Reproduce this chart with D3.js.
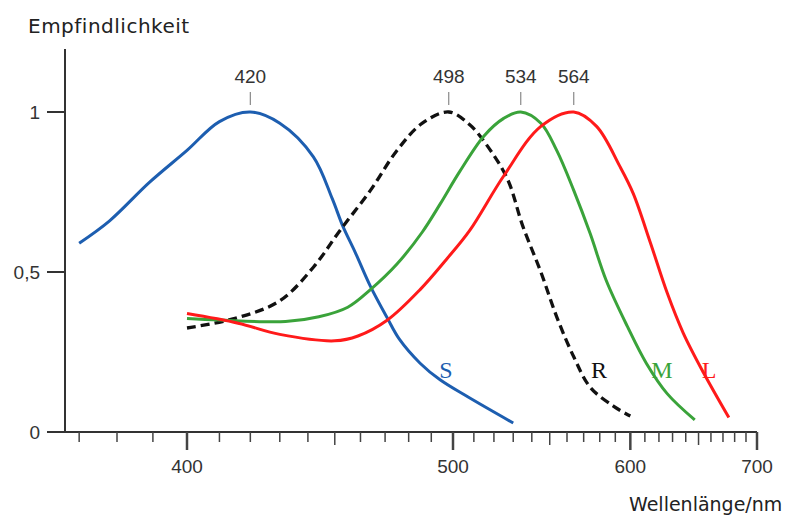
<!DOCTYPE html>
<html>
<head>
<meta charset="utf-8">
<script src="https://cdn.jsdelivr.net/npm/d3@7"></script>
<style>
  body { margin: 0; background: #fff; }
  text { font-family: "DejaVu Sans", sans-serif; fill: #222; }
  .num { font-family: "Liberation Sans", Arial, sans-serif; font-size: 19px; fill: #333; }
</style>
</head>
<body>
<svg width="795" height="515"></svg>
<script>
// wavelengths (nm) and relative sensitivity
var sWave = [370, 378, 389, 400, 410, 420, 430, 442, 449, 453, 458, 464, 471, 476, 485, 494, 507, 530];
var sVal  = [0.59, 0.66, 0.78, 0.88, 0.97, 1.0, 0.965, 0.86, 0.73, 0.645, 0.56, 0.455, 0.355, 0.29, 0.215, 0.163, 0.11, 0.028];

var rWave = [400, 415, 430, 442, 452, 464, 475, 486, 498, 508, 516, 527, 535, 545, 554, 564, 574, 589, 600];
var rVal  = [0.325, 0.355, 0.41, 0.515, 0.63, 0.755, 0.88, 0.965, 1.0, 0.96, 0.9, 0.79, 0.645, 0.5, 0.36, 0.235, 0.14, 0.08, 0.05];

var mWave = [400, 410, 432, 444, 455, 464, 475, 486, 494, 503, 515, 525, 534, 545, 554, 564, 574, 584, 598, 611, 626, 647];
var mVal  = [0.355, 0.35, 0.345, 0.36, 0.39, 0.445, 0.525, 0.625, 0.712, 0.812, 0.925, 0.98, 1.0, 0.965, 0.88, 0.755, 0.62, 0.475, 0.33, 0.215, 0.12, 0.038];

var lWave = [400, 416, 430, 450, 459, 471, 485, 497, 508, 525, 545, 564, 578, 593, 602, 614, 626, 638, 654, 675];
var lVal  = [0.37, 0.34, 0.305, 0.285, 0.3, 0.35, 0.445, 0.54, 0.63, 0.8, 0.955, 1.0, 0.955, 0.83, 0.745, 0.59, 0.435, 0.31, 0.185, 0.045];

var peaks = [420, 498, 534, 564];
var yTicks = [0, 0.5, 1];
var yLabels = ["0", "0,5", "1"];
var xLabelled = [400, 500, 600, 700];
var xMedium = [450, 550, 650];
var xMinor = d3.range(370, 701, 10);

var svg = d3.select("svg");

// x axis is linear in 1/wavelength
var xw = d3.scaleLinear().domain([1 / 400, 1 / 700]).range([187, 757]);
var x = function(l) { return xw(1 / l); };
var y = d3.scaleLinear().domain([0, 1]).range([432, 112]);

// axes
svg.append("line").attr("x1", 65).attr("x2", 65).attr("y1", 49).attr("y2", y(0))
  .attr("stroke", "#333").attr("stroke-width", 2);
svg.append("line").attr("x1", 47).attr("x2", x(700)).attr("y1", y(0)).attr("y2", y(0))
  .attr("stroke", "#333").attr("stroke-width", 2);

svg.selectAll(".ytick").data(yTicks.filter(function(d) { return d > 0; })).enter()
  .append("line")
  .attr("x1", 47).attr("x2", 65)
  .attr("y1", function(d) { return y(d); }).attr("y2", function(d) { return y(d); })
  .attr("stroke", "#333").attr("stroke-width", 2);

svg.selectAll(".ylab").data(yTicks).enter()
  .append("text")
  .attr("class", "num")
  .attr("x", 40).attr("y", function(d) { return y(d) + 7; })
  .attr("text-anchor", "end")
  .text(function(d, i) { return yLabels[i]; });

// x ticks
svg.selectAll(".xminor").data(xMinor).enter()
  .append("line")
  .attr("x1", function(d) { return x(d); }).attr("x2", function(d) { return x(d); })
  .attr("y1", y(0)).attr("y2", function(d) {
    if (xLabelled.indexOf(d) >= 0) return y(0) + 18;
    if (xMedium.indexOf(d) >= 0) return y(0) + 13;
    return y(0) + 10;
  })
  .attr("stroke", "#444")
  .attr("stroke-width", function(d) { return xLabelled.indexOf(d) >= 0 ? 2.5 : 1.5; });

svg.selectAll(".xlab").data(xLabelled).enter()
  .append("text")
  .attr("class", "num")
  .attr("x", function(d) { return x(d); }).attr("y", 473)
  .attr("text-anchor", "middle")
  .text(function(d) { return d; });

// peak markers
svg.selectAll(".pk").data(peaks).enter()
  .append("line")
  .attr("x1", function(d) { return x(d); }).attr("x2", function(d) { return x(d); })
  .attr("y1", 92).attr("y2", 105)
  .attr("stroke", "#888").attr("stroke-width", 1.2);

svg.selectAll(".pklab").data(peaks).enter()
  .append("text")
  .attr("class", "num")
  .attr("x", function(d) { return x(d); }).attr("y", 83)
  .attr("text-anchor", "middle")
  .text(function(d) { return d; });

// curves
var line = d3.line()
  .x(function(d) { return x(d[0]); })
  .y(function(d) { return y(d[1]); })
  .curve(d3.curveCatmullRom.alpha(0.5));

function zip(a, b) { return a.map(function(v, i) { return [v, b[i]]; }); }

var series = [
  { w: sWave, v: sVal, color: "#1d5eb0", dash: null, name: "S", lx: 446 },
  { w: rWave, v: rVal, color: "#111", dash: "9,5", name: "R", lx: 599 },
  { w: mWave, v: mVal, color: "#3aa33a", dash: null, name: "M", lx: 662 },
  { w: lWave, v: lVal, color: "#ff1a1a", dash: null, name: "L", lx: 709 }
];

series.forEach(function(s) {
  svg.append("path")
    .attr("d", line(zip(s.w, s.v)))
    .attr("fill", "none")
    .attr("stroke", s.color)
    .attr("stroke-width", s.dash ? 3.3 : 3)
    .attr("stroke-dasharray", s.dash);
  svg.append("text")
    .attr("x", s.lx).attr("y", 378)
    .attr("text-anchor", "middle")
    .style("font-family", "'Liberation Serif', serif")
    .style("font-size", "24px")
    .style("fill", s.color)
    .text(s.name);
});

// axis titles
svg.append("text").attr("x", 28).attr("y", 33)
  .style("font-size", "20px").style("letter-spacing", "0.5px")
  .text("Empfindlichkeit");
svg.append("text").attr("x", 629).attr("y", 511)
  .style("font-size", "19px")
  .text("Wellenlänge/nm");
</script>
</body>
</html>
